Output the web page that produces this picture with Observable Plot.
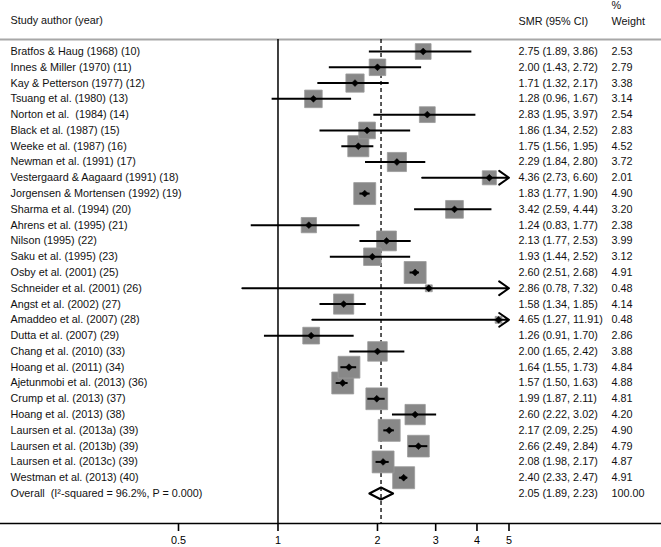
<!DOCTYPE html>
<html>
<head>
<meta charset="utf-8">
<script src="https://cdn.jsdelivr.net/npm/d3@7"></script>
<script src="https://cdn.jsdelivr.net/npm/@observablehq/plot@0.6"></script>
<style>
  html, body { margin: 0; padding: 0; background: #fff; }
  #chart svg { display: block; }
  #chart text { white-space: pre; }
</style>
</head>
<body>
<div id="chart"></div>
<script>
const studies = [
  "Bratfos & Haug (1968) (10)",
  "Innes & Miller (1970) (11)",
  "Kay & Petterson (1977) (12)",
  "Tsuang et al. (1980) (13)",
  "Norton et al.  (1984) (14)",
  "Black et al. (1987) (15)",
  "Weeke et al. (1987) (16)",
  "Newman et al. (1991) (17)",
  "Vestergaard & Aagaard (1991) (18)",
  "Jorgensen & Mortensen (1992) (19)",
  "Sharma et al. (1994) (20)",
  "Ahrens et al. (1995) (21)",
  "Nilson (1995) (22)",
  "Saku et al. (1995) (23)",
  "Osby et al. (2001) (25)",
  "Schneider et al. (2001) (26)",
  "Angst et al. (2002) (27)",
  "Amaddeo et al. (2007) (28)",
  "Dutta et al. (2007) (29)",
  "Chang et al. (2010) (33)",
  "Hoang et al. (2011) (34)",
  "Ajetunmobi et al. (2013) (36)",
  "Crump et al. (2013) (37)",
  "Hoang et al. (2013) (38)",
  "Laursen et al. (2013a) (39)",
  "Laursen et al. (2013b) (39)",
  "Laursen et al. (2013c) (39)",
  "Westman et al. (2013) (40)"
];
const smr = [2.75, 2.00, 1.71, 1.28, 2.83, 1.86, 1.75, 2.29, 4.36, 1.83, 3.42, 1.24, 2.13, 1.93, 2.60, 2.86, 1.58, 4.65, 1.26, 2.00, 1.64, 1.57, 1.99, 2.60, 2.17, 2.66, 2.08, 2.40];
const ciLow = [1.89, 1.43, 1.32, 0.96, 1.95, 1.34, 1.56, 1.84, 2.73, 1.77, 2.59, 0.83, 1.77, 1.44, 2.51, 0.78, 1.34, 1.27, 0.91, 1.65, 1.55, 1.50, 1.87, 2.22, 2.09, 2.49, 1.98, 2.33];
const ciHigh = [3.86, 2.72, 2.17, 1.67, 3.97, 2.52, 1.95, 2.80, 6.60, 1.90, 4.44, 1.77, 2.53, 2.52, 2.68, 7.32, 1.85, 11.91, 1.70, 2.42, 1.73, 1.63, 2.11, 3.02, 2.25, 2.84, 2.17, 2.47];
const weights = [2.53, 2.79, 3.38, 3.14, 2.54, 2.83, 4.52, 3.72, 2.01, 4.90, 3.20, 2.38, 3.99, 3.12, 4.91, 0.48, 4.14, 0.48, 2.86, 3.88, 4.84, 4.88, 4.81, 4.20, 4.90, 4.79, 4.87, 4.91];

const overallLabel = "Overall  (I\u00b2-squared = 96.2%, P = 0.000)";
const overallSmr = 2.05, overallLow = 1.89, overallHigh = 2.23, overallWeight = 100.00;

const xTicks = [0.5, 1, 2, 3, 4, 5];
const xMin = 0.5, xMax = 5;

const fmt = v => v.toFixed(2);
const rows = studies.map((s, i) => ({
  i, study: s, smr: smr[i], lo: ciLow[i], hi: ciHigh[i], w: weights[i],
  ci: `${fmt(smr[i])} (${fmt(ciLow[i])}, ${fmt(ciHigh[i])})`, wt: fmt(weights[i])
}));
const oRow = rows.length;
const textRows = [
  ...rows.map(d => ({i: d.i, study: d.study, ci: d.ci, wt: d.wt})),
  {i: oRow, study: overallLabel, ci: `${fmt(overallSmr)} (${fmt(overallLow)}, ${fmt(overallHigh)})`, wt: fmt(overallWeight)}
];
const dh = 0.38;
const diamond = [
  {x: overallLow, y: oRow}, {x: overallSmr, y: oRow - dh},
  {x: overallHigh, y: oRow}, {x: overallSmr, y: oRow + dh},
  {x: overallLow, y: oRow}
];

const font = "Arial, 'Liberation Sans', Helvetica, sans-serif";
const fs = 10.8;
const ink = "#111";

const chart = Plot.plot({
  width: 661,
  height: 547,
  marginTop: 39,
  marginBottom: 24,
  marginLeft: 0,
  marginRight: 0,
  style: {fontFamily: font, fontSize: fs + "px", color: ink, background: "#fff"},
  x: {type: "log", domain: [xMin, xMax], range: [178, 508.5]},
  y: {domain: [0, oRow], range: [51, 493], axis: null},
  r: {type: "sqrt", domain: [0, 4.91], range: [0, 12.4]},
  marks: [
    Plot.ruleY([-0.76], {stroke: "#a8a8a8", strokeWidth: 2}),
    Plot.ruleY([29.9], {stroke: "#000", strokeWidth: 1.5}),
    Plot.ruleX([1], {stroke: "#000", strokeWidth: 1.5}),
    Plot.ruleX([overallSmr], {stroke: "#000", strokeWidth: 1.3, strokeDasharray: "4,3"}),
    Plot.dot(rows, {x: "smr", y: "i", r: "w", symbol: "square", fill: "#888888", stroke: "#9a9a9a", strokeWidth: 0.8}),
    Plot.ruleY(rows.filter(d => d.hi <= xMax), {y: "i", x1: "lo", x2: "hi", stroke: "#000", strokeWidth: 2}),
    Plot.arrow(rows.filter(d => d.hi > xMax), {x1: "lo", x2: () => xMax, y1: "i", y2: "i", stroke: "#000", strokeWidth: 2, headLength: 9, headAngle: 70}),
    Plot.dot(rows, {x: "smr", y: "i", r: 3.1, symbol: "diamond2", fill: "#000", stroke: "#000", strokeWidth: 0.5}),
    Plot.line(diamond, {x: "x", y: "y", stroke: "#000", strokeWidth: 2, fill: "none"}),
    Plot.axisX({ticks: xTicks, tickFormat: d => String(d), tickSize: 8, tickPadding: 5, stroke: "#000", fill: "#000", strokeWidth: 1.6, label: null, anchor: "bottom", fontSize: fs}),
    Plot.text(textRows, {y: "i", text: "study", frameAnchor: "left", dx: 10, textAnchor: "start", fill: ink}),
    Plot.text(textRows, {y: "i", text: "ci", frameAnchor: "left", dx: 518, textAnchor: "start", fill: ink}),
    Plot.text(textRows, {y: "i", text: "wt", frameAnchor: "left", dx: 611, textAnchor: "start", fill: ink}),
    Plot.text(["Study author (year)"], {y: () => -1.96, text: d => d, frameAnchor: "left", dx: 10, textAnchor: "start", fill: ink}),
    Plot.text(["SMR (95% CI)"], {y: () => -1.92, text: d => d, frameAnchor: "left", dx: 518, textAnchor: "start", fill: ink}),
    Plot.text(["%"], {y: () => -2.9, text: d => d, frameAnchor: "left", dx: 611, textAnchor: "start", fill: ink}),
    Plot.text(["Weight"], {y: () => -1.92, text: d => d, frameAnchor: "left", dx: 611, textAnchor: "start", fill: ink})
  ]
});
document.getElementById("chart").appendChild(chart);
</script>
</body>
</html>
